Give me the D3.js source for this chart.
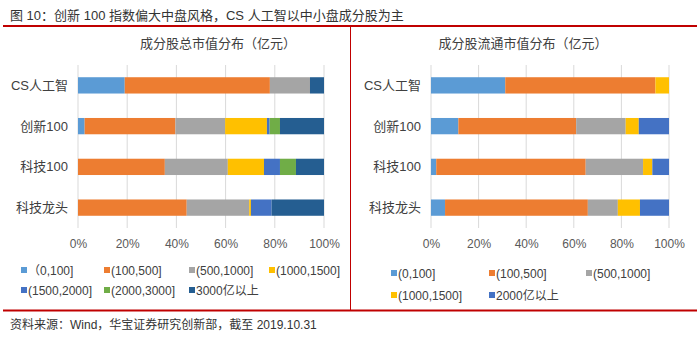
<!DOCTYPE html>
<html>
<head>
<meta charset="utf-8">
<script src="https://cdn.jsdelivr.net/npm/d3@7"></script>
<style>
  html, body { margin: 0; padding: 0; background: #fff; }
  svg { display: block; }
</style>
</head>
<body>
<svg id="chart" width="700" height="339"></svg>
<script>
// Index constituents, top to bottom
const categories = ["CS人工智", "创新100", "科技100", "科技龙头"];

// Total market cap buckets (亿元), share of constituents in %
const totalKeys = ["（0,100]", "(100,500]", "(500,1000]", "(1000,1500]", "(1500,2000]", "(2000,3000]", "3000亿以上"];
const totalCS   = [19.0, 59.0, 16.3, 0, 0, 0, 5.7];
const totalCX   = [2.7, 36.9, 20.2, 17.0, 1.1, 4.2, 17.9];
const totalKJ   = [0, 35.3, 25.6, 14.7, 6.5, 6.5, 11.4];
const totalLT   = [0, 44.2, 25.4, 0.7, 8.4, 0, 21.3];

// Free-float market cap buckets (亿元), share in %
const floatKeys = ["(0,100]", "(100,500]", "(500,1000]", "(1000,1500]", "2000亿以上"];
const floatCS   = [31.2, 63.1, 0, 5.7, 0];
const floatCX   = [11.5, 49.5, 20.8, 5.5, 12.7];
const floatKJ   = [2.2, 62.8, 24.1, 3.9, 7.0];
const floatLT   = [5.9, 60.0, 12.6, 9.3, 12.2];

const pctTicks = [0, 20, 40, 60, 80, 100];

const totalColors = ["#5B9BD5", "#ED7D31", "#A5A5A5", "#FFC000", "#4472C4", "#70AD47", "#255E91"];
const floatColors = ["#5B9BD5", "#ED7D31", "#A5A5A5", "#FFC000", "#4472C4"];

const CJK = "'Noto Sans CJK SC', sans-serif";
const LAT = "'Liberation Sans', Arial, 'Noto Sans CJK SC', sans-serif";

const svg = d3.select("#chart");
const red = "#C00000";

// Header
svg.append("text").attr("x", 10).attr("y", 20)
  .attr("font-family", LAT).attr("font-size", 13).attr("fill", "#333")
  .text("图 10：创新 100 指数偏大中盘风格，CS 人工智以中小盘成分股为主");
svg.append("line").attr("x1", 3).attr("x2", 697).attr("y1", 26).attr("y2", 26)
  .attr("stroke", red).attr("stroke-width", 2);
svg.append("line").attr("x1", 350.5).attr("x2", 350.5).attr("y1", 26).attr("y2", 310)
  .attr("stroke", red).attr("stroke-width", 1);
svg.append("line").attr("x1", 3).attr("x2", 697).attr("y1", 310.5).attr("y2", 310.5)
  .attr("stroke", red).attr("stroke-width", 2);
svg.append("text").attr("x", 10).attr("y", 329)
  .attr("font-family", LAT).attr("font-size", 12).attr("fill", "#333")
  .text("资料来源：Wind，华宝证券研究创新部，截至 2019.10.31");

function toRows(keys, arrays) {
  return categories.map((c, i) => {
    const row = { cat: c };
    keys.forEach((k, j) => row[k] = arrays[i][j]);
    return row;
  });
}

function drawPanel(opt) {
  const g = svg.append("g");
  const x = d3.scaleLinear().domain([0, 100]).range([opt.x0, opt.x1]);
  const y = d3.scaleBand().domain(categories).range([65, 228]).paddingInner(0.6).paddingOuter(0.3);

  g.append("text").attr("x", opt.titleX).attr("y", 48)
    .attr("text-anchor", "middle").attr("font-family", CJK).attr("font-size", 13)
    .attr("fill", "#404040").text(opt.title);

  // vertical gridlines
  g.selectAll("line.grid").data(pctTicks).join("line")
    .attr("x1", d => x(d)).attr("x2", d => x(d))
    .attr("y1", 65).attr("y2", 228)
    .attr("stroke", "#D9D9D9").attr("stroke-width", 1);

  const stack = d3.stack().keys(opt.keys)(toRows(opt.keys, opt.data));
  g.selectAll("g.series").data(stack).join("g")
    .attr("fill", (d, i) => opt.colors[i])
    .selectAll("rect").data(d => d).join("rect")
    .attr("x", d => x(d[0]))
    .attr("width", d => Math.max(0, x(d[1]) - x(d[0])))
    .attr("y", d => y(d.data.cat))
    .attr("height", y.bandwidth());

  // category axis labels
  g.selectAll("text.cat").data(categories).join("text")
    .attr("x", opt.x0 - 10).attr("y", d => y(d) + y.bandwidth() / 2 + 4.5)
    .attr("text-anchor", "end").attr("font-family", LAT).attr("font-size", 13)
    .attr("fill", "#404040").text(d => d);

  // percentage axis
  const axis = d3.axisBottom(x).tickValues(pctTicks).tickFormat(d => d + "%").tickSize(0).tickPadding(0);
  const ax = g.append("g").attr("transform", "translate(0,244)").call(axis);
  ax.select(".domain").remove();
  ax.selectAll("text").attr("font-family", LAT).attr("font-size", 12).attr("fill", "#595959").attr("dy", "0.32em");

  // legend
  opt.legend.forEach((it, i) => {
    g.append("rect").attr("x", it[0]).attr("y", it[1] - 4).attr("width", 6).attr("height", 6)
      .attr("fill", opt.colors[i]);
    g.append("text").attr("x", it[0] + 7).attr("y", it[1] + 4)
      .attr("font-family", LAT).attr("font-size", 12).attr("fill", "#404040")
      .text(opt.keys[i]);
  });
}

drawPanel({
  title: "成分股总市值分布（亿元）",
  titleX: 218,
  x0: 78, x1: 324,
  keys: totalKeys, colors: totalColors,
  data: [totalCS, totalCX, totalKJ, totalLT],
  legend: [[21, 271], [104, 271], [189, 271], [269, 271], [21, 291], [104, 291], [189, 291]]
});

drawPanel({
  title: "成分股流通市值分布（亿元）",
  titleX: 523,
  x0: 431, x1: 669,
  keys: floatKeys, colors: floatColors,
  data: [floatCS, floatCX, floatKJ, floatLT],
  legend: [[391, 274], [489, 274], [586, 274], [391, 296], [489, 296]]
});
</script>
</body>
</html>
